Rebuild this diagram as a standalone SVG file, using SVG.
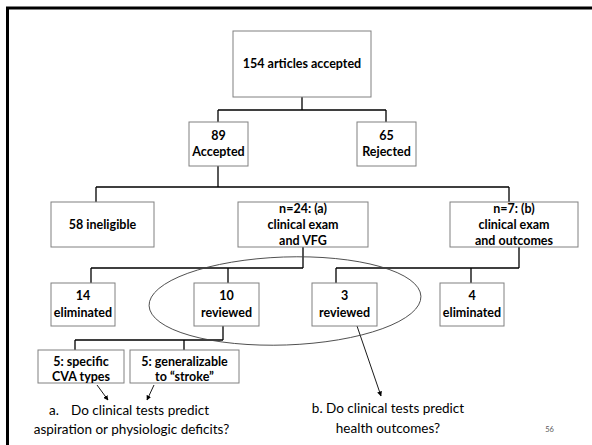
<svg xmlns="http://www.w3.org/2000/svg" width="592" height="445" viewBox="0 0 592 445">
<style>
.box{fill:#fff;stroke:#808080;stroke-width:1}
.lbl{font-family:Lato,"Open Sans",sans-serif;font-weight:bold;font-size:12.5px;fill:#000;text-anchor:middle}
.q{font-family:Lato,"Open Sans",sans-serif;font-size:13.5px;fill:#000}
.con{fill:none;stroke:#000;stroke-width:1.3}
.arr{fill:none;stroke:#000;stroke-width:0.9;marker-end:url(#ah)}
</style>
<defs>
<marker id="ah" viewBox="0 0 10 10" refX="9" refY="5" markerWidth="5" markerHeight="5" orient="auto" markerUnits="userSpaceOnUse">
<path d="M0,0 L10,5 L0,10 z" fill="#000"/>
</marker>
</defs>
<rect width="592" height="445" fill="#fff"/>
<path d="M7.5,445 V8 H592" fill="none" stroke="#000" stroke-width="3"/>
<g id="connectors">
<path class="con" d="M302,97 V110 M218,110 H386 M218,110 V122 M386,110 V122"/>
<path class="con" d="M218,166 V187 M96,187 H509 M96,187 V202 M509,187 V202"/>
<path class="con" d="M303,247 V268 M91,268 H303 M91,268 V283 M228,268 V283"/>
<path class="con" d="M519,247 V268 M336,268 H519 M336,268 V283 M471,268 V283"/>
<path class="con" d="M223,326 V340 M75,340 H223 M75,340 V350 M184,340 V350"/>
<path class="arr" d="M97,385 L108,400"/>
<path class="arr" d="M154,385 L147,400"/>
<path class="arr" d="M357,326 L381,396"/>
</g>
<ellipse id="ellipse" cx="285" cy="301" rx="136" ry="44" transform="rotate(-2 285 301)" fill="none" stroke="#404040" stroke-width="0.9"/>
<g id="n154"><rect class="box" x="233" y="31" width="138" height="66"/><text class="lbl" x="302" y="68">154 articles accepted</text></g>
<g id="n89"><rect class="box" x="189" y="122" width="59" height="44"/><text class="lbl" x="218.5" y="140">89</text><text class="lbl" x="218.5" y="156">Accepted</text></g>
<g id="n65"><rect class="box" x="357" y="122" width="59" height="44"/><text class="lbl" x="386.5" y="140">65</text><text class="lbl" x="386.5" y="156">Rejected</text></g>
<g id="n58"><rect class="box" x="51" y="202" width="103" height="45"/><text class="lbl" x="102.5" y="229">58 ineligible</text></g>
<g id="n24"><rect class="box" x="238" y="202" width="130" height="45"/><text class="lbl" x="303" y="213">n=24: (a)</text><text class="lbl" x="303" y="229">clinical exam</text><text class="lbl" x="303" y="245">and VFG</text></g>
<g id="n7"><rect class="box" x="450" y="202" width="128" height="45"/><text class="lbl" x="514" y="213">n=7: (b)</text><text class="lbl" x="514" y="229">clinical exam</text><text class="lbl" x="514" y="245">and outcomes</text></g>
<g id="n14"><rect class="box" x="51" y="283" width="64" height="43"/><text class="lbl" x="83" y="300">14</text><text class="lbl" x="83" y="317">eliminated</text></g>
<g id="n10"><rect class="box" x="194" y="283" width="65" height="43"/><text class="lbl" x="226.5" y="300">10</text><text class="lbl" x="226.5" y="317">reviewed</text></g>
<g id="n3"><rect class="box" x="312" y="283" width="65" height="43"/><text class="lbl" x="344.5" y="300">3</text><text class="lbl" x="344.5" y="317">reviewed</text></g>
<g id="n4"><rect class="box" x="440" y="283" width="64" height="43"/><text class="lbl" x="472" y="300">4</text><text class="lbl" x="472" y="317">eliminated</text></g>
<g id="n5s"><rect class="box" x="38" y="350" width="86" height="33"/><text class="lbl" x="81" y="366">5: specific</text><text class="lbl" x="81" y="381">CVA types</text></g>
<g id="n5g"><rect class="box" x="130" y="350" width="109" height="33"/><text class="lbl" x="184.5" y="366">5: generalizable</text><text class="lbl" x="184.5" y="381">to “stroke”</text></g>
<g id="qa"><text class="q" y="415"><tspan x="49">a.</tspan><tspan x="71">Do clinical tests predict</tspan></text><text class="q" x="131.5" y="434" text-anchor="middle">aspiration or physiologic deficits?</text></g>
<g id="qb"><text class="q" x="388" y="413" text-anchor="middle">b. Do clinical tests predict</text><text class="q" x="388" y="433" text-anchor="middle">health outcomes?</text></g>
<text x="549.5" y="432" font-family="Lato,sans-serif" font-size="7.5" fill="#595959" text-anchor="middle">56</text>
</svg>
